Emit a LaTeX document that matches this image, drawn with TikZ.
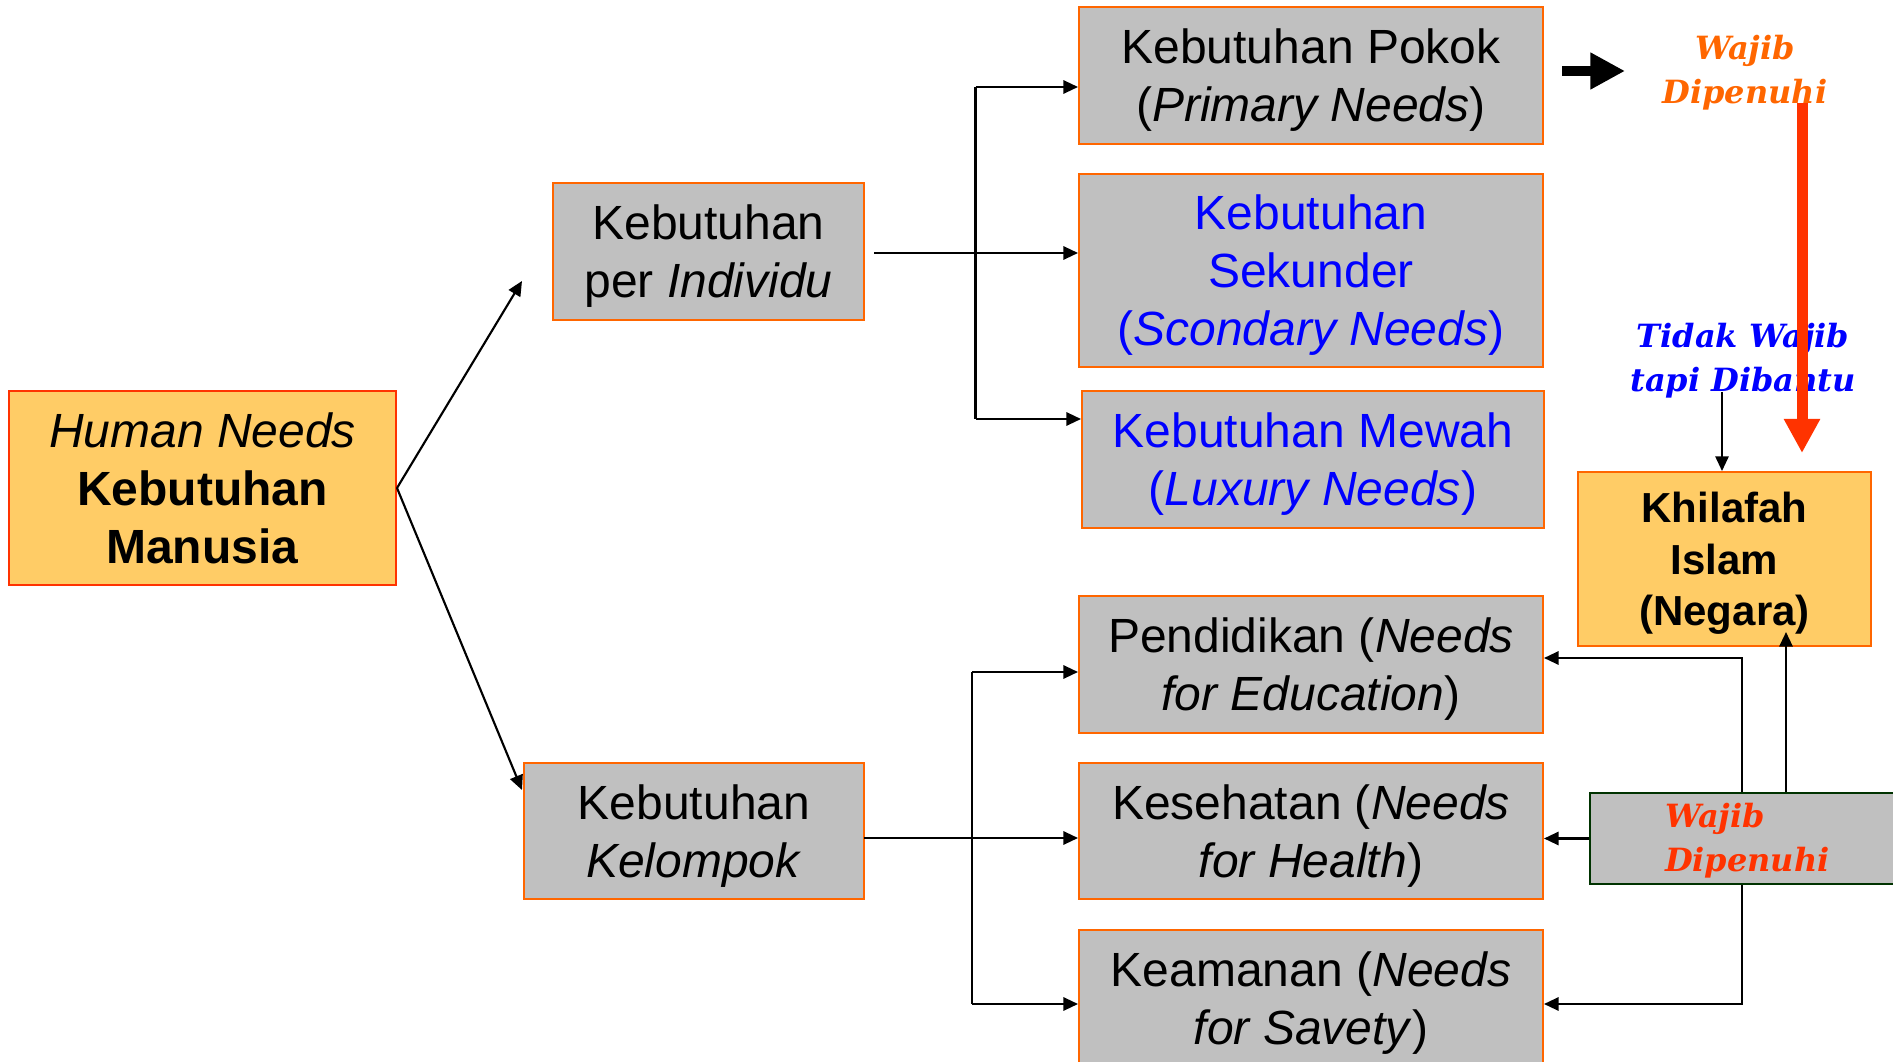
\documentclass[tikz,border=0pt]{standalone}
\usepackage{fontspec}
\setmainfont{Liberation Sans}
\newfontfamily\slabfont{DejaVu Serif}
\usetikzlibrary{arrows.meta}
\definecolor{boxgray}{HTML}{C0C0C0}
\definecolor{orng}{HTML}{FF6600}
\definecolor{redor}{HTML}{FF3300}
\definecolor{pale}{HTML}{FFCC66}
\definecolor{dkgreen}{HTML}{003300}
\definecolor{txtblue}{HTML}{0000FF}
\tikzset{
  gbox/.style={draw=orng, fill=boxgray, line width=1.5pt, inner sep=0pt, align=center,
    font=\fontsize{36pt}{43.5pt}\selectfont, text depth=0pt},
  obox/.style={draw=orng, fill=pale, line width=1.5pt, inner sep=0pt, align=center},
  slab/.style={inner sep=0pt, font=\slabfont\bfseries\itshape\fontsize{24pt}{33pt}\selectfont},
  conn/.style={line width=1.6pt, -{Triangle[length=11pt,width=10pt]}},
  plain/.style={line width=1.6pt},
}
\begin{document}
\begin{tikzpicture}[x=0.75pt,y=-0.75pt]
\useasboundingbox (0,0) rectangle (1893,1062);
% boxes
\node[obox, draw=redor, minimum width=290.25pt, minimum height=145.5pt,
  font=\fontsize{36pt}{43.5pt}\selectfont] (hum) at (202.5,488)
  {\textit{Human Needs}\\\textbf{Kebutuhan}\\\textbf{Manusia}};
\node[gbox, minimum width=233.25pt, minimum height=102.75pt] (ind) at (708.5,251.5)
  {Kebutuhan\\per \textit{Individu}};
\node[gbox, minimum width=255pt, minimum height=102pt] (kel) at (694,831)
  {Kebutuhan\\\textit{Kelompok}};
\node[gbox, minimum width=348pt, minimum height=102.75pt] (prim) at (1311,75.5)
  {Kebutuhan Pokok\\(\textit{Primary Needs})};
\node[gbox, minimum width=348pt, minimum height=144.75pt, text=txtblue] (sec) at (1311,270.5)
  {Kebutuhan\\Sekunder\\(\textit{Scondary Needs})};
\node[gbox, minimum width=346.5pt, minimum height=102.75pt, text=txtblue] (lux) at (1313,459.5)
  {Kebutuhan Mewah\\(\textit{Luxury Needs})};
\node[gbox, minimum width=348pt, minimum height=102.75pt] (edu) at (1311,664.5)
  {Pendidikan (\textit{Needs}\\\textit{for Education})};
\node[gbox, minimum width=348pt, minimum height=102pt] (hea) at (1311,831)
  {Kesehatan (\textit{Needs}\\\textit{for Health})};
\node[gbox, minimum width=348pt, minimum height=102.75pt] (saf) at (1311,998.5)
  {Keamanan (\textit{Needs}\\\textit{for Savety})};
\node[obox, minimum width=219.75pt, minimum height=130.5pt,
  font=\bfseries\fontsize{31.5pt}{38.5pt}\selectfont, text depth=0pt] (kh) at (1724.5,559)
  {Khilafah\\Islam\\(Negara)};
\node[draw=dkgreen, fill=boxgray, line width=1.5pt, anchor=west, minimum width=240pt,
  minimum height=68.25pt, slab, text=redor, align=left, text width=127.5pt,
  inner xsep=56.25pt, inner ysep=0pt, text depth=35pt]
  (gr) at (1589,838.5) {Wajib\\Dipenuhi};
% labels
\node[slab, text=orng, align=center] (wtop) at (1745,73) {Wajib\\Dipenuhi};
\node[slab, text=txtblue, align=center] (tw) at (1743,361) {Tidak Wajib\\tapi Dibantu};
% coordinates
\coordinate (tipI) at (522,281);
\coordinate (tipK) at (522,790);
\coordinate (busT) at (975.5,87);
\coordinate (busB) at (975.5,419);
\coordinate (indOut) at (874,253);
\coordinate (kelOut) at (864,838);
\coordinate (busT2) at (972,672);
\coordinate (busB2) at (972,1004);
\coordinate (cEdu) at (1742,658);
\coordinate (cSaf) at (1742,1004);
\coordinate (upTip) at (1786,632);
\coordinate (twStart) at (1722,392);
\coordinate (ba1) at (1562,71);
\coordinate (ba2) at (1625,71);
\coordinate (ra1) at (1802,103);
\coordinate (ra2) at (1802,453);
% connectors
\draw[conn] (hum.east) -- (tipI);
\draw[conn] (hum.east) -- (tipK);
\draw[plain] (busT) -- (busB);
\draw[conn] (indOut) -- (indOut -| sec.west);
\draw[conn] (busT) -- (busT -| prim.west);
\draw[conn] (busB) -- (busB -| lux.west);
\draw[plain] (busT2) -- (busB2);
\draw[conn] (kelOut) -- (kelOut -| hea.west);
\draw[conn] (busT2) -- (busT2 -| edu.west);
\draw[conn] (busB2) -- (busB2 -| saf.west);
\draw[conn] (gr.north -| cEdu) -- (cEdu) -- (cEdu -| edu.east);
\draw[conn] (gr.south -| cSaf) -- (cSaf) -- (cSaf -| saf.east);
\draw[conn] (gr.west) -- (gr.west -| hea.east);
\draw[conn] (gr.north -| upTip) -- (upTip);
\draw[conn, line width=1.3pt] (twStart) -- (twStart |- kh.north);
\draw[line width=7.5pt, -{Triangle[length=26pt,width=26pt]}] (ba1) -- (ba2);
\draw[redor, line width=8.25pt, -{Triangle[length=25.5pt,width=25.5pt]}] (ra1) -- (ra2);
\end{tikzpicture}
\end{document}
